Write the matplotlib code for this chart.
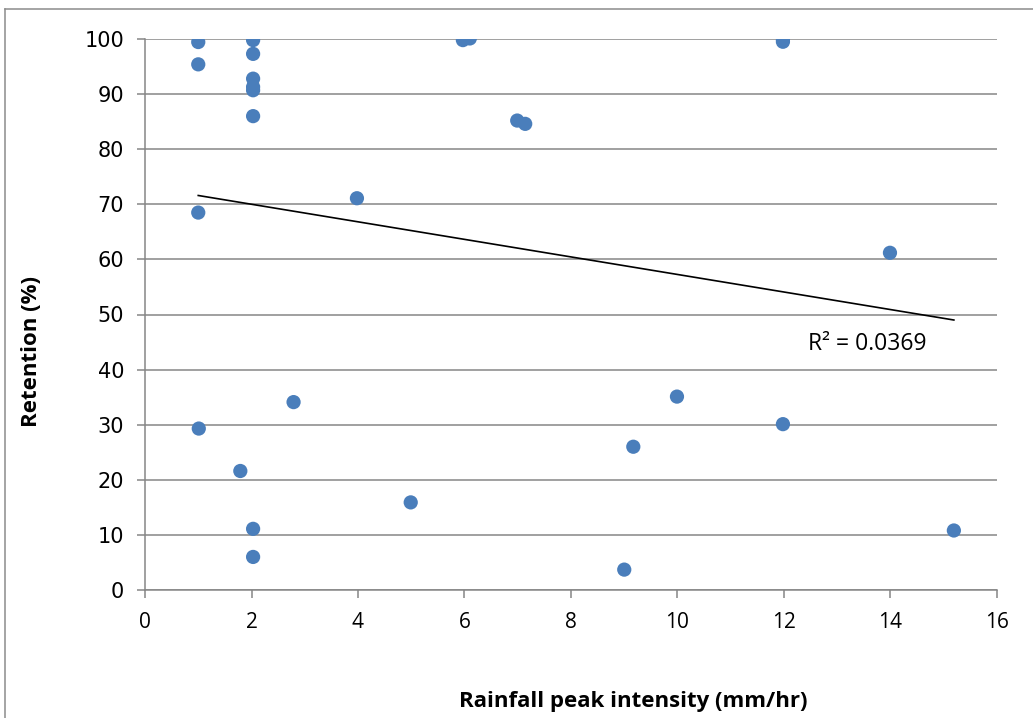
import numpy as np
import matplotlib
matplotlib.use("Agg")
import matplotlib.pyplot as plt
from matplotlib.lines import Line2D

# Data
intensity = [1.0, 1.0, 2.03, 2.03, 2.03, 2.03, 2.03, 2.03, 5.97, 6.1, 6.99, 7.14,
             3.98, 1.0, 11.98, 11.98, 13.99, 15.19, 9.99, 9.17, 11.98, 9.0,
             2.79, 1.01, 1.79, 2.03, 2.03, 4.99]
retention = [99.45, 95.4, 99.8, 97.3, 92.8, 91.3, 90.7, 86.0, 99.8, 100.1, 85.2, 84.6,
             71.1, 68.5, 99.9, 99.5, 61.2, 10.8, 35.1, 26.0, 30.1, 3.7,
             34.1, 29.3, 21.6, 11.1, 6.0, 15.9]
# linear trendline end points
trend_x = [1.0, 15.19]
trend_y = [71.6, 49.0]
r2_label = "R² = 0.0369"
x_ticks = [0, 2, 4, 6, 8, 10, 12, 14, 16]
y_ticks = [0, 10, 20, 30, 40, 50, 60, 70, 80, 90, 100]

W, H = 1033, 718
fig = plt.figure(figsize=(W / 100, H / 100), dpi=100)
ax = fig.add_axes([145 / W, 1 - 590 / H, (997 - 145) / W, (590 - 39) / H])

grid_c = "#868686"
ax.set_xlim(0, 16)
ax.set_ylim(0, 100)
ax.set_xticks(x_ticks)
ax.set_yticks(y_ticks)
ax.grid(axis="y", color=grid_c, linewidth=1.1, zorder=0)
ax.set_axisbelow(True)
for s in ["top", "right"]:
    ax.spines[s].set_visible(False)
for s in ["left", "bottom"]:
    ax.spines[s].set_color(grid_c)
    ax.spines[s].set_linewidth(1.1)
ax.tick_params(axis="both", direction="out", length=6, width=1.1, color=grid_c)
ax.tick_params(axis="y", pad=9)
ax.tick_params(axis="x", pad=10)

for lab in ax.get_yticklabels():
    lab.set_fontfamily("DejaVu Sans")
    lab.set_fontsize(15)
for lab in ax.get_xticklabels():
    lab.set_fontfamily("Open Sans")
    lab.set_fontsize(15)

ax.scatter(intensity, retention, s=105, color="#4A7EBB", zorder=3, edgecolors="none")

ax.plot(trend_x, trend_y, color="black", linewidth=1.2, zorder=4)

ax.text(12.45, 44.6, r2_label, fontsize=16.5, fontfamily="Open Sans",
        va="center", ha="left")

fig.text(633 / W, 1 - 701 / H, "Rainfall peak intensity (mm/hr)", fontsize=16,
         fontweight="bold", fontfamily="Open Sans", ha="center", va="center")
fig.text(32 / W, 1 - 352 / H, "Retention (%)", fontsize=16, fontweight="bold",
         fontfamily="Open Sans", ha="center", va="center", rotation=90)

# outer chart border (cropped at right and bottom)
fig.add_artist(Line2D([5 / W, 5 / W], [0, 1 - 9 / H], transform=fig.transFigure,
                      color="#8c8c8c", linewidth=1.1))
fig.add_artist(Line2D([5 / W, 1], [1 - 9 / H, 1 - 9 / H], transform=fig.transFigure,
                      color="#8c8c8c", linewidth=1.1))

fig.savefig("out.png", dpi=100, facecolor="white")
